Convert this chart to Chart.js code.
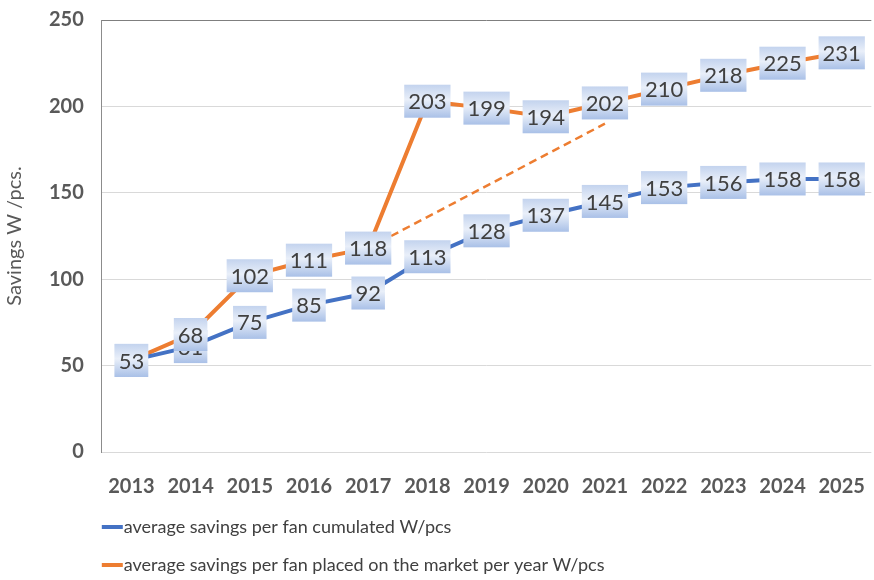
<!DOCTYPE html>
<html>
<head>
<meta charset="utf-8">
<script src="https://cdn.jsdelivr.net/npm/chart.js@4"></script>
<style>
	body { margin: 0; overflow: hidden; background: #fff; }
</style>
</head>
<body>
<canvas id="fan-canvas" width="880" height="580"></canvas>
<script>
const years = ["2013", "2014", "2015", "2016", "2017", "2018", "2019", "2020", "2021", "2022", "2023", "2024", "2025"];
const cumulated = [53, 61, 75, 85, 92, 113, 128, 137, 145, 153, 156, 158, 158];
const perYear = [53, 68, 102, 111, 118, 203, 199, 194, 202, 210, 218, 225, 231];
const trend = [null, null, null, null, 118, null, null, null, 190, null, null, null, null];
const yTicks = [0, 50, 100, 150, 200, 250];

// boxed value labels on each point
const labelBoxes = {
	id: "labelBoxes",
	afterDatasetsDraw(chart) {
		const ctx = chart.ctx;
		ctx.save();
		ctx.font = "22px Lato";
		ctx.textAlign = "center";
		ctx.textBaseline = "middle";
		chart.data.datasets.forEach((ds, i) => {
			if (!ds.boxed) return;
			chart.getDatasetMeta(i).data.forEach((pt, j) => {
				const text = String(ds.data[j]);
				const w = ctx.measureText(text).width + 8;
				const h = 33;
				const x = pt.x - w / 2;
				const y = pt.y - h / 2;
				const g = ctx.createLinearGradient(0, y, 0, y + h);
				g.addColorStop(0, "#c3d3ee");
				g.addColorStop(0.45, "#e9eff9");
				g.addColorStop(1, "#a9c0e7");
				ctx.fillStyle = g;
				ctx.fillRect(x, y, w, h);
				ctx.fillStyle = "#404040";
				ctx.fillText(text, pt.x, pt.y + 1);
			});
		});
		ctx.restore();
	},
};

// legend stacked under the plot, aligned with its left edge
const leftLegend = {
	id: "leftLegend",
	afterDraw(chart) {
		const ctx = chart.ctx;
		const left = chart.chartArea.left;
		let y = 527;
		ctx.save();
		ctx.font = "18px Lato";
		ctx.textBaseline = "middle";
		chart.data.datasets.forEach((ds) => {
			if (!ds.inLegend) return;
			ctx.fillStyle = ds.borderColor;
			ctx.fillRect(left, y - 2, 21, 4);
			ctx.fillStyle = "#404040";
			ctx.fillText(ds.label, left + 22, y);
			y += 38;
		});
		ctx.restore();
	},
};

const fanCanvas = document.getElementById("fan-canvas").getContext("2d");

Chart.defaults.font.family = "Lato";

const fanChart = new Chart(fanCanvas, {
	type: "line",
	data: {
		labels: years,
		datasets: [
			{
				label: "average savings per fan cumulated W/pcs",
				data: cumulated,
				borderColor: "#4472c4",
				borderWidth: 4,
				pointRadius: 0,
				boxed: true,
				inLegend: true,
			},
			{
				label: "average savings per fan placed on the market per year W/pcs",
				data: perYear,
				borderColor: "#ed7d31",
				borderWidth: 4,
				pointRadius: 0,
				boxed: true,
				inLegend: true,
			},
			{
				label: "trend",
				data: trend,
				borderColor: "#ed7d31",
				borderWidth: 2.5,
				borderDash: [8, 5],
				pointRadius: 0,
				spanGaps: true,
			},
		],
	},
	options: {
		responsive: false,
		animation: false,
		layout: {
			padding: { top: 20, right: 2, bottom: 66, left: 3 },
		},
		plugins: {
			legend: { display: false },
			tooltip: { enabled: false },
		},
		scales: {
			x: {
				offset: true,
				grid: { display: false },
				border: { display: false },
				ticks: {
					color: "#595959",
					padding: 15,
					maxRotation: 0,
					font: { size: 20, weight: "bold" },
				},
			},
			y: {
				min: 0,
				max: 250,
				afterBuildTicks: (axis) => {
					axis.ticks = yTicks.map((v) => ({ value: v }));
				},
				afterFit: (axis) => {
					axis.paddingTop = 12;
				},
				grid: {
					color: (c) => (c.tick && c.tick.value === 250 ? "#7f7f7f" : "#d9d9d9"),
					lineWidth: 1,
					drawTicks: false,
				},
				border: { display: true, color: "#8c8c8c" },
				ticks: {
					color: "#595959",
					padding: 18,
					font: { size: 20, weight: "bold" },
				},
				title: {
					display: true,
					text: "Savings W /pcs.",
					color: "#595959",
					font: { size: 20 },
					padding: { top: 0, bottom: 4 },
				},
			},
		},
	},
	plugins: [labelBoxes, leftLegend],
});
</script>
</body>
</html>
